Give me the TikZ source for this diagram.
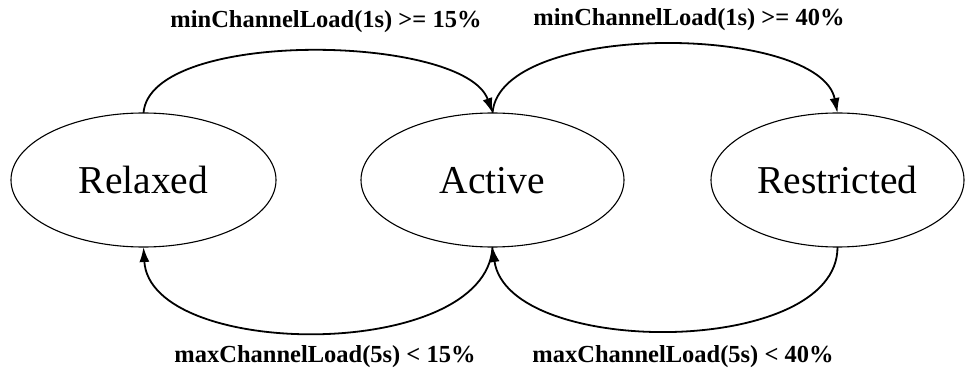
\documentclass[tikz,border=0pt]{standalone}
\usepackage{fontspec}
\setmainfont{Liberation Serif}
\usetikzlibrary{shapes.geometric,arrows.meta}

\tikzset{
  state/.style={draw, ellipse, line width=1.1pt, inner sep=0pt, outer sep=0pt,
    minimum height=134pt, text height=28pt, text depth=0pt,
    font=\fontsize{39.5}{42}\selectfont},
  trans/.style={line width=1.8pt, -{Latex[length=15pt,width=10pt]}},
  cond/.style={font=\fontsize{24.5}{28}\selectfont\bfseries, inner sep=0pt}
}

\begin{document}
\begin{tikzpicture}[x=1pt,y=-1pt]
  \useasboundingbox (0,0) rectangle (965,371);

  % the three states
  \node[state, minimum width=265pt] (relaxed)    at (143.5,180) {Relaxed};
  \node[state, minimum width=263pt] (active)     at (492.5,180) {Active};
  \node[state, minimum width=253pt] (restricted) at (837.5,180) {Restricted};

  % rising load: upper arcs
  \draw[trans] (relaxed.north) .. controls (150,28) and (465,34) .. (active.north);
  \draw[trans] (active.north) .. controls (500,20) and (820,24) .. (restricted.north);

  % falling load: lower arcs
  \draw[trans] (active.south) .. controls (486,362) and (150,360) .. (relaxed.south);
  \draw[trans] (restricted.south) .. controls (838,358) and (508,358) .. (active.south);

  % transition conditions
  \node[cond] (c1) at (326,22)  {minChannelLoad(1s) >= 15\%};
  \node[cond] (c2) at (689,20)  {minChannelLoad(1s) >= 40\%};
  \node[cond] (c3) at (325,357) {maxChannelLoad(5s) < 15\%};
  \node[cond] (c4) at (683,357) {maxChannelLoad(5s) < 40\%};
\end{tikzpicture}
\end{document}
